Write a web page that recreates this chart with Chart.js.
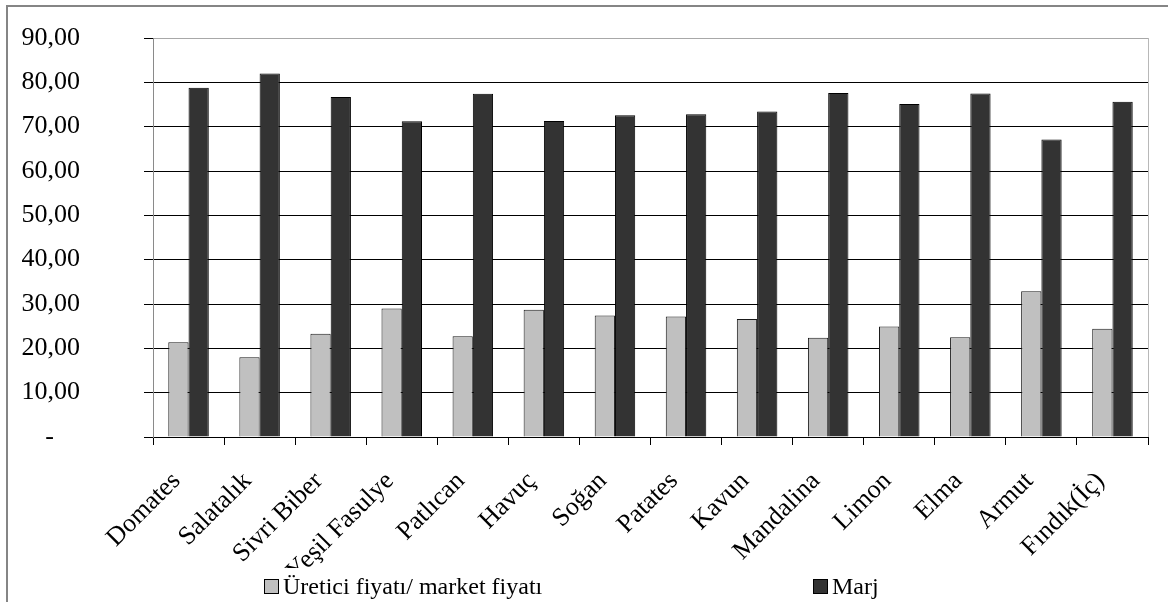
<!DOCTYPE html>
<html lang="tr">
<head>
<meta charset="utf-8">
<title>Üretici fiyatı / market fiyatı ve marj</title>
<script src="https://cdn.jsdelivr.net/npm/chart.js@4.4.1/dist/chart.umd.min.js"></script>
<style>
  html, body { margin: 0; padding: 0; background: #fff; }
  #wrap { position: relative; width: 1168px; height: 602px; overflow: hidden; }
  #frame {
    position: absolute; left: 6px; top: 5px; right: -10px; bottom: -10px;
    border-top: 2px solid #858585; border-left: 2px solid #858585;
    pointer-events: none;
  }
  canvas { position: absolute; left: 0; top: 0; }
</style>
</head>
<body>
<div id="wrap">
  <canvas id="grafik" width="1168" height="602"></canvas>
  <div id="frame"></div>
</div>
<script>
// ürünler
const urunler = ['Domates', 'Salatalık', 'Sivri Biber', 'Yeşil Fasulye', 'Patlıcan', 'Havuç', 'Soğan',
  'Patates', 'Kavun', 'Mandalina', 'Limon', 'Elma', 'Armut', 'Fındık(İç)'];

// üretici fiyatı / market fiyatı (%)
const ureticiOrani = [21.4, 18.0, 23.3, 29.0, 22.7, 28.7, 27.4, 27.2, 26.6, 22.4, 24.9, 22.5, 32.9, 24.4];

// marj (%)
const marj = [78.8, 82.0, 76.7, 71.2, 77.4, 71.3, 72.6, 72.8, 73.4, 77.6, 75.1, 77.5, 67.1, 75.6];

const yEksenMin = 0;
const yEksenMax = 90;
const yAdim = 10;

const yaziTipi = "'Liberation Serif', 'Times New Roman', serif";

// alt kısımdaki açıklama kutuları
const aciklama = {
  id: 'aciklama',
  afterDraw(chart) {
    const ctx = chart.ctx;
    const xler = [264, 813];
    ctx.save();
    // açıklama alanı beyaz zemin (altındaki etiketin ucunu örter)
    ctx.fillStyle = '#fff';
    ctx.fillRect(258, 568, 660, 34);
    ctx.font = '24px ' + yaziTipi;
    ctx.textBaseline = 'alphabetic';
    ctx.textAlign = 'left';
    chart.data.datasets.forEach(function(ds, i) {
      const x = xler[i];
      ctx.fillStyle = ds.backgroundColor;
      ctx.fillRect(x, 579, 15, 15);
      ctx.strokeStyle = '#000';
      ctx.lineWidth = 1;
      ctx.strokeRect(x + 0.5, 579.5, 14, 14);
      ctx.fillStyle = '#000';
      ctx.fillText(ds.label, x + 19, 594);
    });
    ctx.restore();
  }
};

// çizim alanının sağ kenarı
const sagKenar = {
  id: 'sagKenar',
  beforeDatasetsDraw(chart) {
    const a = chart.chartArea;
    const ctx = chart.ctx;
    ctx.save();
    ctx.strokeStyle = '#b8b8b8';
    ctx.lineWidth = 1;
    ctx.beginPath();
    ctx.moveTo(Math.round(a.right) + 0.5, a.top);
    ctx.lineTo(Math.round(a.right) + 0.5, a.bottom);
    ctx.stroke();
    ctx.restore();
  }
};

const ctx = document.getElementById('grafik').getContext('2d');
new Chart(ctx, {
  type: 'bar',
  data: {
    labels: urunler,
    datasets: [{
      label: 'Üretici fiyatı/ market fiyatı',
      data: ureticiOrani,
      backgroundColor: '#c0c0c0',
      borderColor: '#1a1a1a',
      borderWidth: 1
    }, {
      label: 'Marj',
      data: marj,
      backgroundColor: '#333333',
      borderColor: '#000',
      borderWidth: 1
    }]
  },
  options: {
    responsive: false,
    animation: false,
    devicePixelRatio: 1,
    layout: { padding: { top: 38, right: 20, bottom: 0, left: 0 } },
    datasets: {
      bar: { categoryPercentage: 0.57, barPercentage: 1.0 }
    },
    plugins: {
      legend: { display: false },
      tooltip: { enabled: false }
    },
    scales: {
      x: {
        afterFit(scale) { scale.height = 165; },
        border: { color: '#000', width: 1 },
        grid: {
          offset: true,
          drawOnChartArea: false,
          drawTicks: true,
          tickLength: 8,
          tickColor: '#000'
        },
        ticks: {
          autoSkip: false,
          minRotation: 45,
          maxRotation: 45,
          padding: 21,
          labelOffset: -12,
          color: '#000',
          font: { family: yaziTipi, size: 26 }
        }
      },
      y: {
        min: yEksenMin,
        max: yEksenMax,
        afterFit(scale) {
          scale.width = 153;
          scale.paddingTop = 0;
          scale.paddingBottom = 0;
        },
        border: { color: '#8a8a8a', width: 1 },
        grid: {
          color: function(c) { return c.tick && c.tick.value === yEksenMax ? '#a8a8a8' : '#000'; },
          lineWidth: 1,
          tickLength: 9,
          tickColor: '#000'
        },
        ticks: {
          stepSize: yAdim,
          padding: 64,
          color: '#000',
          font: { family: yaziTipi, size: 26 },
          callback: function(v) {
            if (v === 0) return '-    ';
            return v.toFixed(2).replace('.', ',');
          }
        }
      }
    }
  },
  plugins: [sagKenar, aciklama]
});
</script>
</body>
</html>
